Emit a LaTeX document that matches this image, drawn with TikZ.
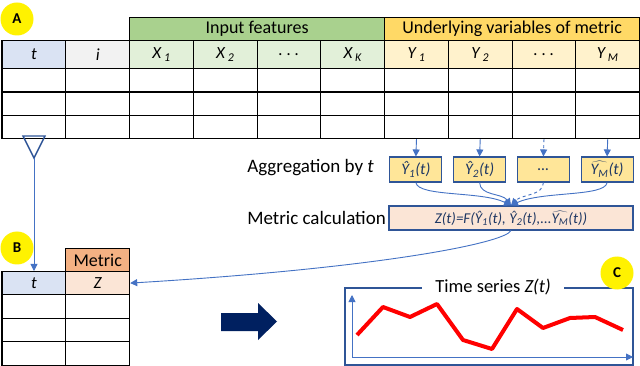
\documentclass[tikz,border=0pt]{standalone}
\usepackage{fontspec}
\setmainfont{Carlito}
\usetikzlibrary{arrows.meta}
\definecolor{tcol}{HTML}{DAE3F3}
\definecolor{icol}{HTML}{F2F2F2}
\definecolor{xcol}{HTML}{E2F0D9}
\definecolor{ycol}{HTML}{FFF2CC}
\definecolor{ingrp}{HTML}{A9D18E}
\definecolor{ygrp}{HTML}{FFD966}
\definecolor{aggfill}{HTML}{FFE699}
\definecolor{calcfill}{HTML}{FBE5D6}
\definecolor{metfill}{HTML}{F4B183}
\definecolor{bordblue}{HTML}{2F5597}
\definecolor{lineblue}{HTML}{4472C4}
\definecolor{txtblue}{HTML}{1F3864}
\definecolor{navy}{HTML}{002060}
\newcommand{\hY}[1]{\^{Y}\textsubscript{#1}}
\newcommand{\hYM}{\ensuremath{\widehat{\mbox{\itshape Y\textsubscript{M}}}}}
\tikzset{
  cell/.style={draw=black, line width=1.2pt, anchor=north west, inner sep=0pt, minimum width=63.75pt, font=\fontsize{17}{20}\selectfont\itshape},
  grp/.style={draw=black, line width=1.2pt, anchor=north west, inner sep=0pt, minimum height=23pt, font=\fontsize{18}{21}\selectfont},
  aggbox/.style={draw=bordblue, line width=1.1pt, fill=aggfill, inner sep=0pt, minimum width=52pt, minimum height=25pt, text=txtblue, font=\fontsize{16}{19}\selectfont\itshape},
  calcbox/.style={draw=bordblue, line width=1.1pt, fill=calcfill, inner sep=0pt, minimum width=244pt, minimum height=24pt, text=txtblue, font=\fontsize{15}{18}\selectfont\itshape},
  lbl/.style={font=\fontsize{19}{22}\selectfont, anchor=east, inner sep=0pt},
  badge/.style={circle, fill=yellow, inner sep=0pt, minimum size=33pt, font=\fontsize{15}{17}\selectfont\bfseries},
  conn/.style={draw=lineblue, line width=0.9pt, -{Triangle[width=7pt,length=7pt]}},
}
\begin{document}
\begin{tikzpicture}[x=1pt,y=-1pt]
\useasboundingbox (0,0) rectangle (640,366);
\fill[white] (0,0) rectangle (640,366);

% ---------- Table A ----------
\node[grp, fill=ingrp, minimum width=255pt] (ingroup) at (129,17) {Input features};
\node[grp, fill=ygrp, minimum width=255pt] (ygroup) at (384,17) {Underlying variables of metric};

\foreach \k/\fc/\txt in {0/tcol/t, 1/icol/i, 2/xcol/{X\,\textsubscript{1}}, 3/xcol/{X\,\textsubscript{2}}, 4/xcol/{.\ .\ .}, 5/xcol/{X\,\textsubscript{K}}, 6/ycol/{Y\,\textsubscript{1}}, 7/ycol/{Y\,\textsubscript{2}}, 8/ycol/{.\ .\ .}, 9/ycol/{Y\,\textsubscript{M}}}{
  \node[cell, fill=\fc, minimum height=28pt] (h\k) at ({1.5+63.75*\k},40) {\txt};
}
\foreach \r in {0,1,2}{
  \foreach \k in {0,...,9}{
    \node[cell, minimum height=23.3pt] (r\r c\k) at ({1.5+63.75*\k},{68+23.33*\r}) {};
  }
}
\node[badge] (A) at (17,19) {A};

% ---------- Aggregation ----------
\node[aggbox] (agg1) at (415.9,169.5) {\hY{1}(t)};
\node[aggbox] (agg2) at (479.6,169.5) {\hY{2}(t)};
\node[aggbox] (agg3) at (543.4,169.5) {\dots};
\node[aggbox] (agg4) at (607.1,169.5) {\hYM(t)};
\node[lbl] (agglbl) at (374,168) {Aggregation by \textit{t}};

\draw[conn] (r2c6.south) -- (agg1.north);
\draw[conn] (r2c7.south) -- (agg2.north);
\draw[conn, dashed] (r2c8.south) -- (agg3.north);
\draw[conn] (r2c9.south) -- (agg4.north);

\node[calcbox] (calc) at (511,218) {Z(t)=F(\hY{1}(t), \hY{2}(t),...\hYM(t))};
\node[lbl] (calclbl) at (386,218) {Metric calculation};

\draw[conn] (agg1.south) .. controls (418,197) and (482,191) .. (calc.north);
\draw[conn] (agg2.south) .. controls (480,196) and (502,193) .. (calc.north);
\draw[conn, dashed] (agg3.south) .. controls (543,196) and (522,194) .. (calc.north);
\draw[conn] (agg4.south) .. controls (605,197) and (542,191) .. (calc.north);

% ---------- Table B ----------
\node[grp, fill=metfill, minimum width=63.75pt] (bmetric) at (65.25,248) {Metric};
\node[cell, fill=tcol, minimum height=23pt] (bt) at (1.5,271) {t};
\node[cell, fill=calcfill, minimum height=23pt] (bz) at (65.25,271) {Z};
\foreach \r in {0,1,2}{
  \foreach \k in {0,1}{
    \node[cell, minimum height=23.5pt] (b\r c\k) at ({1.5+63.75*\k},{294+23.5*\r}) {};
  }
}
\node[badge] (B) at (17,248) {B};

% funnel and arrow to B
\coordinate (ftl) at (23,136);
\coordinate (ftr) at (45,136);
\coordinate (ftip) at (34,158);
\draw[bordblue, line width=1.4pt, line join=miter] (ftl) -- (ftr) -- (ftip) -- cycle;
\draw[conn] (ftip) -- (bt.north -| ftip);

% arrow from metric calculation to Z
\draw[conn] (calc.south) .. controls (505,243) and (380,268) .. (bz.east);

% big arrow
\fill[navy] (221,313) -- (258,313) -- (258,303) -- (277,321.5) -- (258,340) -- (258,331) -- (221,331) -- cycle;

% ---------- Time series ----------
\draw[bordblue, line width=1.3pt] (345,288) rectangle (633,365);
\node[fill=white, inner xsep=13pt, inner ysep=2pt, font=\fontsize{18.5}{21}\selectfont] (tstitle) at (493,287) {Time series \textit{Z(t)}};
\coordinate (orig) at (352,357);
\coordinate (yend) at (352,295);
\coordinate (xend) at (633,357);
\draw[conn] (orig) -- (yend);
\draw[conn] (orig) -- (xend);
\draw[red, line width=4pt, line join=round] (357,335) -- (383,307) -- (410,317) -- (437,304) -- (463,340) -- (492,349) -- (517,309) -- (543,328) -- (570,318) -- (595,317) -- (623,330);
\node[badge] (C) at (617,273) {C};
\end{tikzpicture}
\end{document}
